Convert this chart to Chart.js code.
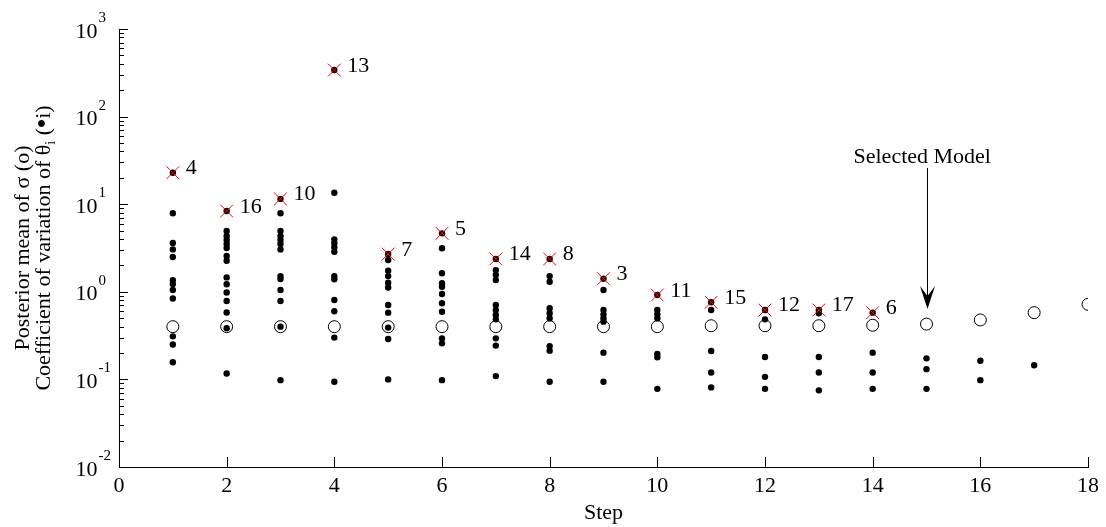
<!DOCTYPE html>
<html>
<head>
<meta charset="utf-8">
<style>
  body { margin: 0; background: #fff; }
  .chart-box { width: 1106px; height: 527px; }
</style>
</head>
<body>
<div class="chart-box"><canvas id="myChart"></canvas></div>
<script src="https://cdn.jsdelivr.net/npm/chart.js"></script>
<script>
  // model selection steps
  const steps = [1, 2, 3, 4, 5, 6, 7, 8, 9, 10, 11, 12, 13, 14, 15, 16, 17, 18];
  // posterior mean of sigma (open circles)
  const sigmaMean = [0.40, 0.40, 0.40, 0.40, 0.40, 0.40, 0.40, 0.40, 0.40, 0.40,
                     0.41, 0.41, 0.41, 0.415, 0.428, 0.477, 0.578, 0.72];
  // coefficient of variation of theta_i for the parameters kept at each step
  const covDots = [
    [7.87, 3.6, 3.05, 2.5, 1.36, 1.23, 1.05, 0.84, 0.31, 0.25, 0.157],
    [4.94, 4.34, 3.9, 3.51, 3.16, 2.56, 2.26, 1.46, 1.22, 0.98, 0.785, 0.58, 0.383, 0.117],
    [7.87, 4.94, 4.34, 3.9, 3.51, 3.05, 1.51, 1.4, 1.05, 0.785, 0.40, 0.098],
    [13.5, 3.97, 3.58, 3.22, 2.87, 1.51, 1.39, 0.805, 0.60, 0.30, 0.094],
    [2.31, 1.74, 1.51, 1.27, 1.12, 0.706, 0.578, 0.39, 0.289, 0.10],
    [3.14, 1.63, 1.25, 1.14, 0.944, 0.74, 0.593, 0.294, 0.258, 0.098],
    [1.77, 1.56, 1.36, 0.706, 0.62, 0.543, 0.485, 0.294, 0.243, 0.109],
    [1.51, 1.30, 0.648, 0.568, 0.498, 0.24, 0.213, 0.094],
    [1.05, 0.62, 0.553, 0.498, 0.456, 0.202, 0.094],
    [0.62, 0.553, 0.498, 0.195, 0.179, 0.078],
    [0.62, 0.211, 0.12, 0.081],
    [0.485, 0.18, 0.107, 0.078],
    [0.57, 0.18, 0.12, 0.075],
    [0.202, 0.12, 0.078],
    [0.174, 0.131, 0.078],
    [0.163, 0.098],
    [0.145],
    []
  ];
  // parameter removed at each step (largest c.o.v.)
  const removedValue = [22.9, 8.36, 11.5, 340, 2.70, 4.65, 2.37, 2.37, 1.41, 0.918, 0.759, 0.62, 0.62, 0.578];
  const removedParam = [4, 16, 10, 13, 7, 5, 14, 8, 3, 11, 15, 12, 17, 6];
  const xTicks = [0, 2, 4, 6, 8, 10, 12, 14, 16, 18];
  const yDecades = [-2, -1, 0, 1, 2, 3];
  const selectedStep = 15;

  const FONT = '"Liberation Serif", "Times New Roman", serif';

  const dotPoints = [];
  covDots.forEach((vals, i) => vals.forEach(v => dotPoints.push({x: steps[i], y: v})));
  removedValue.forEach((v, i) => dotPoints.push({x: steps[i], y: v}));
  const sigmaPoints = sigmaMean.map((v, i) => ({x: steps[i], y: v}));
  const removedPoints = removedValue.map((v, i) => ({x: steps[i], y: v}));

  const overlay = {
    id: 'overlay',
    afterDraw(chart) {
      const {ctx, chartArea: a, scales: {x, y}} = chart;
      ctx.save();
      ctx.strokeStyle = '#000';
      ctx.fillStyle = '#000';
      ctx.lineWidth = 1;

      // y ticks (inside), major + minor
      ctx.beginPath();
      yDecades.forEach(e => {
        for (let m = 1; m <= 9; m++) {
          if (e === 3 && m > 1) break;
          const py = Math.round(y.getPixelForValue(m * Math.pow(10, e))) + 0.5;
          const len = m === 1 ? 9 : 5;
          ctx.moveTo(a.left, py);
          ctx.lineTo(a.left + len, py);
        }
      });
      // x ticks (inside)
      xTicks.forEach(v => {
        const px = Math.round(x.getPixelForValue(v)) + 0.5;
        ctx.moveTo(px, a.bottom);
        ctx.lineTo(px, a.bottom - 10);
      });
      ctx.stroke();

      // y tick labels 10^n
      ctx.textBaseline = 'alphabetic';
      ctx.textAlign = 'left';
      yDecades.forEach(e => {
        const py = y.getPixelForValue(Math.pow(10, e));
        ctx.font = '22px ' + FONT;
        const lx = a.left - 43.5;
        ctx.fillText('10', lx, py + 8.5);
        const w = ctx.measureText('10').width;
        ctx.font = '15px ' + FONT;
        ctx.fillText(e < 0 ? '-' + Math.abs(e) : String(e), lx + w + 1, py - 7);
      });

      // x tick labels
      ctx.font = '22px ' + FONT;
      ctx.textAlign = 'center';
      xTicks.forEach(v => {
        ctx.fillText(String(v), x.getPixelForValue(v), a.bottom + 25);
      });
      ctx.fillText('Step', (a.left + a.right) / 2, a.bottom + 52);

      // y axis title, two rotated lines
      const cy = (a.top + a.bottom) / 2;
      ctx.save();
      ctx.translate(28.5, cy);
      ctx.rotate(-Math.PI / 2);
      ctx.font = '22px ' + FONT;
      ctx.textAlign = 'center';
      ctx.fillText('Posterior mean of σ (o)', 0, 0);
      ctx.restore();

      ctx.save();
      ctx.translate(50, cy);
      ctx.rotate(-Math.PI / 2);
      ctx.textAlign = 'left';
      const parts = [
        {t: 'Coefficient of variation of θ', f: '22px ' + FONT, dy: 0},
        {t: 'i', f: '14px ' + FONT, dy: 5},
        {t: ' (', f: '22px ' + FONT, dy: 0},
        {t: '•', f: 'bold 26px ' + FONT, dy: 0},
        {t: 'i)', f: '22px ' + FONT, dy: 0}
      ];
      let total = 0;
      parts.forEach(p => { ctx.font = p.f; p.w = ctx.measureText(p.t).width; total += p.w; });
      let tx = -total / 2;
      parts.forEach(p => { ctx.font = p.f; ctx.fillText(p.t, tx, p.dy); tx += p.w; });
      ctx.restore();

      // labels of removed parameters
      ctx.font = '22px ' + FONT;
      ctx.textAlign = 'left';
      chart.getDatasetMeta(0).data.forEach((pt, i) => {
        ctx.fillText(String(removedParam[i]), pt.x + 13, pt.y + 1.5);
      });

      // selected model arrow
      const ax = Math.round(x.getPixelForValue(selectedStep)) + 0.5;
      const tipY = y.getPixelForValue(sigmaMean[steps.indexOf(selectedStep)]) - 15;
      ctx.beginPath();
      ctx.moveTo(ax, 168);
      ctx.lineTo(ax, tipY - 12);
      ctx.stroke();
      ctx.beginPath();
      ctx.moveTo(ax, tipY);
      ctx.lineTo(ax - 7.5, tipY - 23);
      ctx.lineTo(ax, tipY - 13);
      ctx.lineTo(ax + 7.5, tipY - 23);
      ctx.closePath();
      ctx.fill();
      ctx.font = '22px ' + FONT;
      ctx.fillText('Selected Model', ax - 74, 163);

      ctx.restore();
    }
  };

  const ctx = document.getElementById('myChart');
  Chart.defaults.font.family = FONT;
  new Chart(ctx, {
    type: 'scatter',
    data: {
      datasets: [
        {
          label: 'Removed parameter',
          data: removedPoints,
          pointStyle: 'crossRot',
          radius: 9,
          borderColor: '#ff0000',
          borderWidth: 1,
          order: 0
        },
        {
          label: 'Posterior mean of sigma',
          data: sigmaPoints,
          pointStyle: 'circle',
          radius: 6,
          backgroundColor: 'rgba(0,0,0,0)',
          borderColor: '#000',
          borderWidth: 1,
          order: 1
        },
        {
          label: 'Coefficient of variation',
          data: dotPoints,
          pointStyle: 'circle',
          radius: 3.2,
          backgroundColor: '#000',
          borderWidth: 0,
          order: 2
        }
      ]
    },
    options: {
      responsive: true,
      maintainAspectRatio: false,
      animation: false,
      events: [],
      layout: { padding: { left: 119, right: 18, top: 29, bottom: 60 } },
      scales: {
        x: {
          type: 'linear',
          min: 0,
          max: 18,
          ticks: { display: false },
          grid: { display: false, drawTicks: false },
          border: { display: true, color: '#000', width: 1 }
        },
        y: {
          type: 'logarithmic',
          min: 0.01,
          max: 1000,
          ticks: { display: false },
          grid: { display: false, drawTicks: false },
          border: { display: true, color: '#000', width: 1 }
        }
      },
      plugins: {
        legend: { display: false },
        tooltip: { enabled: false }
      }
    },
    plugins: [overlay]
  });
</script>
</body>
</html>
